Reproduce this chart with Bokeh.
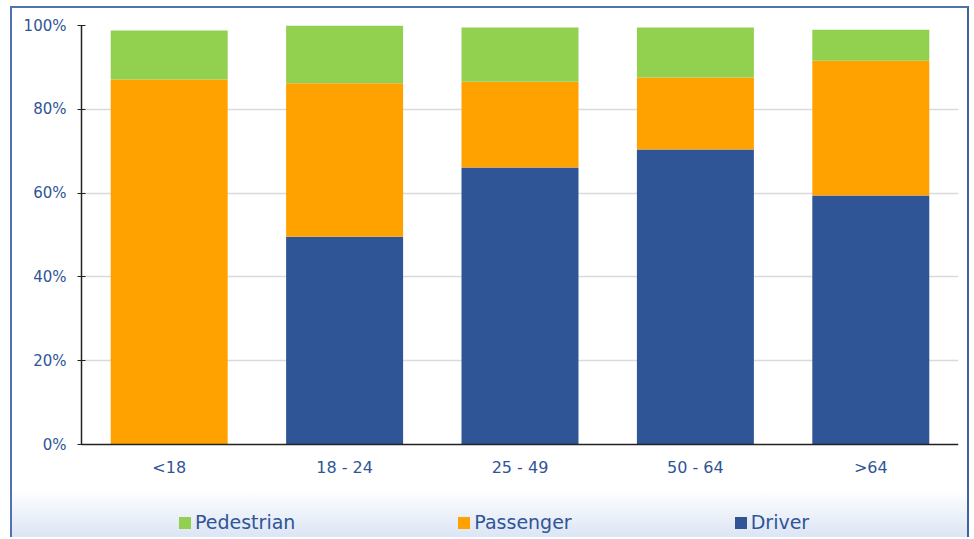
from bokeh.plotting import figure
from bokeh.models import FixedTicker, PrintfTickFormatter, Legend, LegendItem, FactorRange, Range1d
from bokeh.embed import file_html
from bokeh.resources import INLINE

categories = ["<18", "18 - 24", "25 - 49", "50 - 64", ">64"]
driver = [0.0, 49.6, 66.1, 70.4, 59.4]
passenger = [87.1, 36.6, 20.5, 17.2, 32.2]
pedestrian = [11.7, 13.8, 12.9, 11.9, 7.4]
y_ticks = [0, 20, 40, 60, 80, 100]

series = ["driver", "passenger", "pedestrian"]
names = {"driver": "Driver", "passenger": "Passenger", "pedestrian": "Pedestrian"}
colors = ["#2f5597", "#ffa200", "#92d050"]

data = dict(cat=categories, driver=driver, passenger=passenger, pedestrian=pedestrian)

FONT = "DejaVu Sans"
TXT = "#2f5597"

# frame extends down to the bottom edge so the legend (drawn in the frame) is visible;
# the category axis is pinned at y = 0
p = figure(
    width=959, height=531,
    x_range=FactorRange(*categories, range_padding=0),
    y_range=Range1d(-22.67, 100),
    output_backend="svg", toolbar_location=None,
    min_border_left=69, min_border_right=13, min_border_top=17, min_border_bottom=0,
)
p.border_fill_alpha = 0
p.background_fill_alpha = 0
p.outline_line_color = None
p.styles = {
    "margin-left": "10px",
    "margin-top": "6px",
    "border-top": "2px solid #4f72b0",
    "border-left": "2px solid #4f72b0",
    "border-right": "2px solid #3f62a0",
    "background": "linear-gradient(to bottom, #ffffff 0%, #ffffff 91%, #dce5f4 100%)",
}

renderers = p.vbar_stack(series, x="cat", width=0.667, color=colors, source=data, line_color=None)

p.yaxis.ticker = FixedTicker(ticks=y_ticks)
p.yaxis.formatter = PrintfTickFormatter(format="%d%%")
p.yaxis.bounds = (0, 100)
p.yaxis.major_tick_out = 4
p.yaxis.major_tick_in = 4
p.yaxis.minor_tick_line_color = None
p.yaxis.axis_line_color = "#222222"
p.yaxis.axis_line_width = 1.5
p.yaxis.major_tick_line_color = "#222222"
p.yaxis.major_label_standoff = 11

p.xaxis.fixed_location = 0
p.xaxis.major_tick_line_color = None
p.xaxis.minor_tick_line_color = None
p.xaxis.axis_line_color = "#222222"
p.xaxis.axis_line_width = 1.5
p.xaxis.major_label_standoff = 7

for ax in (p.xaxis, p.yaxis):
    ax.major_label_text_font = FONT
    ax.major_label_text_color = TXT
p.yaxis.major_label_text_font_size = "15px"
p.xaxis.major_label_text_font_size = "16px"

p.xgrid.grid_line_color = None
p.ygrid.ticker = FixedTicker(ticks=y_ticks[1:])
p.ygrid.grid_line_color = "#dadada"
p.ygrid.grid_line_width = 1.5

r_driver, r_pass, r_ped = renderers
legend = Legend(
    items=[
        LegendItem(label=names["pedestrian"], renderers=[r_ped]),
        LegendItem(label=names["passenger"], renderers=[r_pass]),
        LegendItem(label=names["driver"], renderers=[r_driver]),
    ],
    orientation="horizontal",
    location=(96, 6),
    padding=0, margin=0,
    glyph_width=15, glyph_height=15,
    label_standoff=3,
    spacing=161,
    border_line_color=None,
    background_fill_alpha=0,
    label_text_font=FONT,
    label_text_font_size="19px",
    label_text_color=TXT,
)
p.add_layout(legend, "center")

open("out.html", "w").write(file_html(p, INLINE))
